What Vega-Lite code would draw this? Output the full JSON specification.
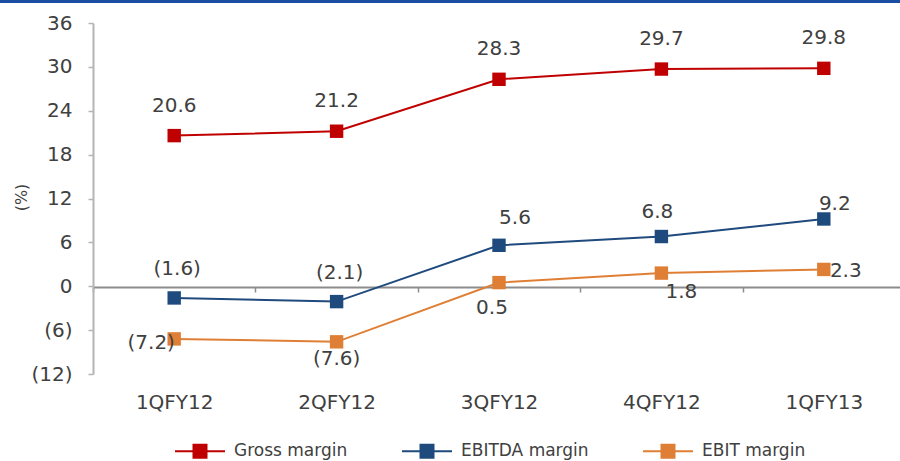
{
  "$schema": "https://vega.github.io/schema/vega-lite/v6.json",
  "width": 900,
  "height": 461,
  "autosize": "none",
  "padding": 0,
  "background": "white",
  "config": {
    "view": {"stroke": "#1a4ea3", "strokeWidth": 6, "strokeDash": [900, 4000], "fill": null},
    "font": "DejaVu Sans",
    "text": {"font": "DejaVu Sans", "fontSize": 20, "fill": "#404040", "baseline": "middle", "align": "center"}
  },
  "data": {
    "values": [
      {"quarter": "1QFY12", "series": "Gross margin", "value": 20.6},
      {"quarter": "2QFY12", "series": "Gross margin", "value": 21.2},
      {"quarter": "3QFY12", "series": "Gross margin", "value": 28.3},
      {"quarter": "4QFY12", "series": "Gross margin", "value": 29.7},
      {"quarter": "1QFY13", "series": "Gross margin", "value": 29.8},
      {"quarter": "1QFY12", "series": "EBITDA margin", "value": -1.6},
      {"quarter": "2QFY12", "series": "EBITDA margin", "value": -2.1},
      {"quarter": "3QFY12", "series": "EBITDA margin", "value": 5.6},
      {"quarter": "4QFY12", "series": "EBITDA margin", "value": 6.8},
      {"quarter": "1QFY13", "series": "EBITDA margin", "value": 9.2},
      {"quarter": "1QFY12", "series": "EBIT margin", "value": -7.2},
      {"quarter": "2QFY12", "series": "EBIT margin", "value": -7.6},
      {"quarter": "3QFY12", "series": "EBIT margin", "value": 0.5},
      {"quarter": "4QFY12", "series": "EBIT margin", "value": 1.8},
      {"quarter": "1QFY13", "series": "EBIT margin", "value": 2.3}
    ]
  },
  "encoding": {
    "x": {
      "field": "quarter", "type": "nominal", "sort": null, "bandPosition": 0.5,
      "scale": {"type": "band", "range": [93, 905], "paddingInner": 0, "paddingOuter": 0},
      "axis": {
        "orient": "bottom", "offset": -174, "title": null, "labelAngle": 0,
        "domainColor": "#8c8c8c", "domainWidth": 2, "tickColor": "#8c8c8c", "tickWidth": 1.5, "tickSize": 5,
        "tickBand": "extent", "labelPadding": 100, "labelFont": "DejaVu Sans", "labelFontSize": 20,
        "labelColor": "#404040", "grid": false
      }
    },
    "y": {
      "field": "value", "type": "quantitative",
      "scale": {"domain": [-12, 36], "range": [374, 23], "nice": false, "zero": false},
      "axis": {
        "orient": "left", "offset": -93, "values": [-12, -6, 0, 6, 12, 18, 24, 30, 36], "format": "(d",
        "title": "(%)", "titleX": -72, "titleY": 197, "titleAngle": -90, "titleAlign": "center", "titleBaseline": "middle",
        "titleFont": "DejaVu Sans", "titleFontSize": 16, "titleFontWeight": "normal", "titleColor": "#404040",
        "domainColor": "#b4b4b4", "domainWidth": 2, "tickColor": "#b4b4b4", "tickWidth": 1.5, "tickSize": 5,
        "labelPadding": 16, "labelFont": "DejaVu Sans", "labelFontSize": 20, "labelColor": "#404040", "grid": false
      }
    },
    "color": {
      "field": "series", "type": "nominal",
      "scale": {"domain": ["Gross margin", "EBITDA margin", "EBIT margin"], "range": ["#c00000", "#1f4a7e", "#df7f36"]},
      "legend": {
        "title": null, "orient": "none", "direction": "horizontal", "columns": 3,
        "legendX": 174, "legendY": 425, "padding": 0,
        "symbolType": "M-1,0H1M-0.26,-0.26H0.26V0.26H-0.26Z", "symbolSize": 2500, "symbolStrokeWidth": 2,
        "labelFont": "DejaVu Sans", "labelFontSize": 17, "labelColor": "#404040", "labelOffset": 8,
        "columnPadding": 50, "labelLimit": 300,
        "encode": {"symbols": {"update": {"fill": {"scale": "color", "field": "value"}, "stroke": {"scale": "color", "field": "value"}, "fillOpacity": {"value": 1}}}}
      }
    }
  },
  "layer": [
    {"mark": {"type": "line", "strokeWidth": 2, "point": {"shape": "square", "size": 180, "filled": true, "opacity": 1}}},
    {"transform": [{"filter": "datum.series === 'Gross margin'"}],
     "mark": {"type": "text", "dy": -30},
     "encoding": {"text": {"field": "value", "type": "quantitative", "format": "(.1f"}, "color": {"value": "#404040"}}},
    {"transform": [{"filter": "datum.series === 'EBITDA margin' && (datum.quarter === '1QFY12' || datum.quarter === '2QFY12')"}],
     "mark": {"type": "text", "dy": -29, "dx": 3},
     "encoding": {"text": {"field": "value", "type": "quantitative", "format": "(.1f"}, "color": {"value": "#404040"}}},
    {"transform": [{"filter": "datum.series === 'EBITDA margin' && datum.quarter === '3QFY12'"}],
     "mark": {"type": "text", "dy": -27, "dx": 16},
     "encoding": {"text": {"field": "value", "type": "quantitative", "format": "(.1f"}, "color": {"value": "#404040"}}},
    {"transform": [{"filter": "datum.series === 'EBITDA margin' && datum.quarter === '4QFY12'"}],
     "mark": {"type": "text", "dy": -25, "dx": -4},
     "encoding": {"text": {"field": "value", "type": "quantitative", "format": "(.1f"}, "color": {"value": "#404040"}}},
    {"transform": [{"filter": "datum.series === 'EBITDA margin' && datum.quarter === '1QFY13'"}],
     "mark": {"type": "text", "dy": -15, "dx": 11},
     "encoding": {"text": {"field": "value", "type": "quantitative", "format": "(.1f"}, "color": {"value": "#404040"}}},
    {"transform": [{"filter": "datum.series === 'EBIT margin' && datum.quarter === '1QFY12'"}],
     "mark": {"type": "text", "dy": 4, "dx": -23},
     "encoding": {"text": {"field": "value", "type": "quantitative", "format": "(.1f"}, "color": {"value": "#404040"}}},
    {"transform": [{"filter": "datum.series === 'EBIT margin' && datum.quarter === '2QFY12'"}],
     "mark": {"type": "text", "dy": 17, "dx": 0},
     "encoding": {"text": {"field": "value", "type": "quantitative", "format": "(.1f"}, "color": {"value": "#404040"}}},
    {"transform": [{"filter": "datum.series === 'EBIT margin' && datum.quarter === '3QFY12'"}],
     "mark": {"type": "text", "dy": 25, "dx": -7},
     "encoding": {"text": {"field": "value", "type": "quantitative", "format": "(.1f"}, "color": {"value": "#404040"}}},
    {"transform": [{"filter": "datum.series === 'EBIT margin' && datum.quarter === '4QFY12'"}],
     "mark": {"type": "text", "dy": 19, "dx": 20},
     "encoding": {"text": {"field": "value", "type": "quantitative", "format": "(.1f"}, "color": {"value": "#404040"}}},
    {"transform": [{"filter": "datum.series === 'EBIT margin' && datum.quarter === '1QFY13'"}],
     "mark": {"type": "text", "dy": 2, "dx": 22},
     "encoding": {"text": {"field": "value", "type": "quantitative", "format": "(.1f"}, "color": {"value": "#404040"}}}
  ]
}
